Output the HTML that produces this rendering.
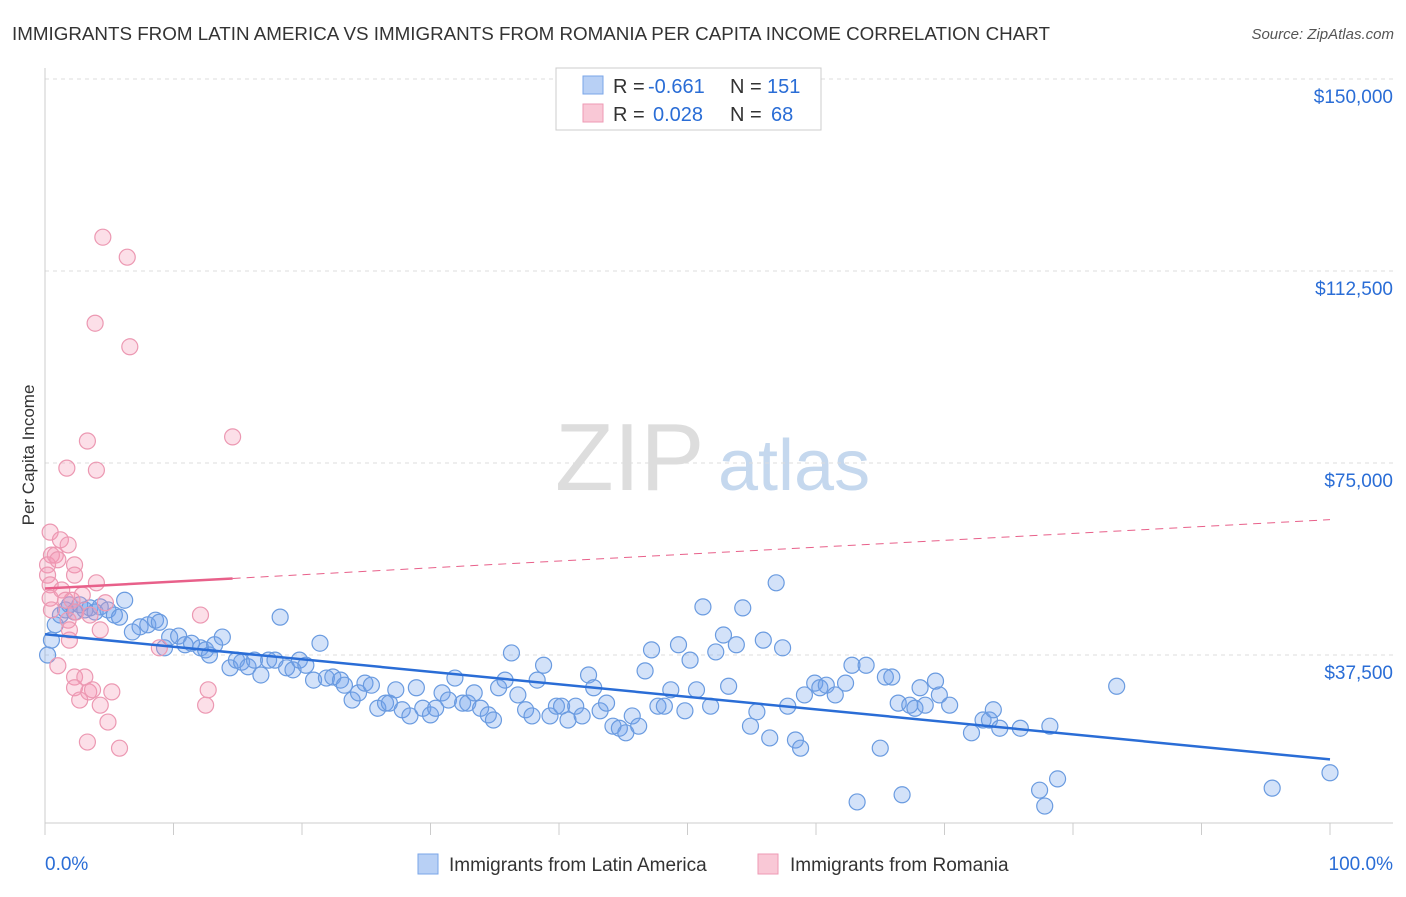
<!DOCTYPE html>
<html><head><meta charset="utf-8"><style>
body{margin:0;background:#fff;font-family:"Liberation Sans",sans-serif;}
svg text{font-family:"Liberation Sans",sans-serif;}
</style></head><body>
<svg id="c" width="1406" height="892" xmlns="http://www.w3.org/2000/svg">
<text x="12" y="40" font-size="18.8" fill="#333">IMMIGRANTS FROM LATIN AMERICA VS IMMIGRANTS FROM ROMANIA PER CAPITA INCOME CORRELATION CHART</text>
<text x="1394" y="39" font-size="15" fill="#555" text-anchor="end" font-style="italic">Source: ZipAtlas.com</text>
<text x="555" y="490" font-size="96" fill="#ddd" font-family="Liberation Serif">ZIP</text>
<text x="718" y="490" font-size="72" fill="#c5d8ee">atlas</text>
<text x="34" y="455" font-size="17" fill="#333" text-anchor="middle" transform="rotate(-90 34 455)">Per Capita Income</text>
<g id="grid"></g><g id="pts"></g><g id="lines"></g>
<g>
<rect x="556" y="68" width="265" height="62" fill="#fff" stroke="#ccc"/>
<rect x="583" y="76" width="20" height="18" fill="#b8d0f5" stroke="#7aa6e8"/>
<rect x="583" y="104" width="20" height="18" fill="#f9c8d6" stroke="#ee9ab4"/>
<text x="613" y="93" font-size="20" fill="#333">R =</text>
<text x="648" y="93" font-size="20" fill="#2a6dd6">-0.661</text>
<text x="730" y="93" font-size="20" fill="#333">N =</text>
<text x="767" y="93" font-size="20" fill="#2a6dd6">151</text>
<text x="613" y="121" font-size="20" fill="#333">R =</text>
<text x="653" y="121" font-size="20" fill="#2a6dd6">0.028</text>
<text x="730" y="121" font-size="20" fill="#333">N =</text>
<text x="771" y="121" font-size="20" fill="#2a6dd6">68</text>
</g>
<g>
<rect x="418" y="854" width="20" height="20" fill="#b8d0f5" stroke="#7aa6e8"/>
<text x="449" y="871" font-size="19" fill="#333">Immigrants from Latin America</text>
<rect x="758" y="854" width="20" height="20" fill="#f9c8d6" stroke="#ee9ab4"/>
<text x="790" y="871" font-size="19" fill="#333">Immigrants from Romania</text>
</g>
<text x="45" y="870" font-size="19" fill="#2a6dd6">0.0%</text>
<text x="1393" y="870" font-size="19" fill="#2a6dd6" text-anchor="end">100.0%</text>
</svg>
<script>
const yTicks=[37500,75000,112500,150000];
const yTickLabels=["$37,500","$75,000","$112,500","$150,000"];
const blueX=[0.2,0.5,0.8,1.2,1.6,1.9,2.3,2.7,3.1,3.5,3.9,4.3,4.9,5.4,5.8,6.2,6.8,7.4,8.0,8.6,8.9,9.3,9.7,10.4,10.9,11.4,12.1,12.5,12.8,13.2,13.8,14.4,14.9,15.3,15.8,16.3,16.8,17.4,17.9,18.3,18.8,19.3,19.8,20.3,20.9,21.4,21.9,22.4,23.0,23.3,23.9,24.4,24.9,25.4,25.9,26.5,26.8,27.3,27.8,28.4,28.9,29.4,30.0,30.4,30.9,31.4,31.9,32.5,32.9,33.4,33.9,34.5,34.9,35.3,35.8,36.3,36.8,37.4,37.9,38.3,38.8,39.3,39.8,40.2,40.7,41.3,41.8,42.3,42.7,43.2,43.7,44.2,44.7,45.2,45.7,46.2,46.7,47.2,47.7,48.2,48.7,49.3,49.8,50.2,50.7,51.2,51.8,52.2,52.8,53.2,53.8,54.3,54.9,55.4,55.9,56.4,56.9,57.4,57.8,58.4,58.8,59.1,59.9,60.3,60.8,61.5,62.3,62.8,63.2,63.9,65.0,65.4,65.9,66.4,66.7,67.3,67.7,68.1,68.5,69.3,69.6,70.4,72.1,73.0,73.5,73.8,74.3,75.9,77.4,77.8,78.2,78.8,83.4,95.5,100];
const blueY=[37.5,40.4,43.4,45.3,46.3,47.3,45.9,47.3,46.3,46.7,45.9,46.9,46.3,45.3,44.9,48.2,42.0,43.0,43.4,44.3,43.9,38.9,41.0,41.2,39.5,39.8,38.9,38.5,37.5,39.5,41.0,35.0,36.5,36.1,35.2,36.5,33.6,36.5,36.5,44.9,35.0,34.6,36.5,35.5,32.6,39.8,33.0,33.2,32.6,31.6,28.7,30.1,32.0,31.6,27.1,28.1,28.1,30.7,26.8,25.6,31.1,27.1,25.8,27.1,30.1,28.7,33.0,28.1,28.1,30.1,27.1,25.8,24.8,31.1,32.6,37.9,29.7,26.8,25.6,32.6,35.5,25.6,27.5,27.5,24.8,27.5,25.6,33.6,31.1,26.6,28.1,23.6,23.2,22.3,25.6,23.6,34.4,38.5,27.5,27.5,30.7,39.5,26.6,36.5,30.7,46.9,27.5,38.1,41.4,31.4,39.5,46.7,23.6,26.4,40.4,21.3,51.6,38.9,27.5,20.9,19.3,29.7,32.0,31.1,31.6,29.7,32.0,35.5,8.8,35.5,19.3,33.2,33.2,28.1,10.2,27.7,27.1,31.1,27.7,32.4,29.7,27.7,22.3,24.8,24.8,26.8,23.2,23.2,11.1,8.0,23.6,13.3,31.4,11.5,14.5];
const pinkX=[0.4,0.5,0.2,0.2,0.4,0.4,0.5,0.8,1.0,1.2,1.3,1.6,1.8,1.8,1.9,1.9,2.1,2.3,2.3,1.7,1.0,2.3,2.3,2.7,3.1,3.3,3.4,3.7,3.3,4.0,3.9,4.0,4.3,4.5,4.7,4.9,5.2,5.8,6.4,6.6,4.3,8.9,12.1,12.5,12.7,14.6,2.4,2.9,3.5];
const pinkY=[61.5,57.0,55.1,53.1,51.2,48.6,46.3,57.0,56.1,60.0,50.2,48.2,59.0,44.3,42.4,40.4,48.2,55.1,53.1,74.0,35.4,33.2,31.1,28.7,33.2,20.5,30.3,30.7,79.3,73.6,102.3,51.6,27.7,119.1,47.7,24.4,30.3,19.3,115.2,97.7,42.4,38.9,45.3,27.7,30.7,80.1,45.9,49.2,45.3];
const NS="http://www.w3.org/2000/svg";
const X0=45,X1=1330,Y0=847,PPK=192/37.5;
function sx(v){return X0+(X1-X0)*v/100;}
function sy(k){return Y0-k*PPK;}
function mk(t,a,p){const e=document.createElementNS(NS,t);for(const k in a)e.setAttribute(k,a[k]);p.appendChild(e);return e;}
const grid=document.getElementById('grid'),pts=document.getElementById('pts'),lines=document.getElementById('lines');
yTicks.forEach((t,i)=>{const y=sy(t/1000);
const g=mk('line',{x1:45,x2:1393,y1:y,y2:y,stroke:'#ddd','stroke-dasharray':'4,4'},grid);


const tx=mk('text',{x:1393,y:y+24,'font-size':19,fill:'#2a6dd6','text-anchor':'end'},grid);tx.textContent=yTickLabels[i];

});
mk('line',{x1:45,x2:45,y1:68,y2:823,stroke:'#ccc'},grid);
mk('line',{x1:45,x2:1393,y1:823,y2:823,stroke:'#ccc'},grid);
for(let i=0;i<=10;i++){const x=sx(i*10);const t=mk('line',{x1:x,x2:x,y1:823,y2:835,stroke:'#ccc'},grid);

}
function dots(xs,ys,fill,stroke,name){xs.forEach((v,i)=>{const c=mk('circle',{cx:sx(v),cy:sy(ys[i]),r:8,fill:fill,stroke:stroke,'stroke-width':1.2},pts);

});}
dots(blueX,blueY,'rgba(110,160,235,0.3)','#6a9be0','latin-america-point');
dots(pinkX,pinkY,'rgba(245,150,180,0.3)','#ec98b2','romania-point');
function fit(xs,ys){const n=xs.length;let mx=0,my=0;xs.forEach((v,i)=>{mx+=v;my+=ys[i];});mx/=n;my/=n;let a=0,b=0;xs.forEach((v,i)=>{a+=(v-mx)*(ys[i]-my);b+=(v-mx)*(v-mx);});const s=a/b;return [s,my-s*mx];}
const bf=fit(blueX,blueY);
const bl=mk('line',{x1:sx(0),y1:sy(bf[1]),x2:sx(100),y2:sy(bf[1]+bf[0]*100),stroke:'#2a6dd6','stroke-width':2.5},lines);


const pf=fit(pinkX,pinkY);const pm=Math.max(...pinkX);
const pl=mk('line',{x1:sx(0),y1:sy(pf[1]),x2:sx(pm),y2:sy(pf[1]+pf[0]*pm),stroke:'#e8608a','stroke-width':2.5},lines);


const pd=mk('line',{x1:sx(pm),y1:sy(pf[1]+pf[0]*pm),x2:sx(100),y2:sy(pf[1]+pf[0]*100),stroke:'#e8608a','stroke-width':1,'stroke-dasharray':'8,6'},lines);


</script>
</body></html>
